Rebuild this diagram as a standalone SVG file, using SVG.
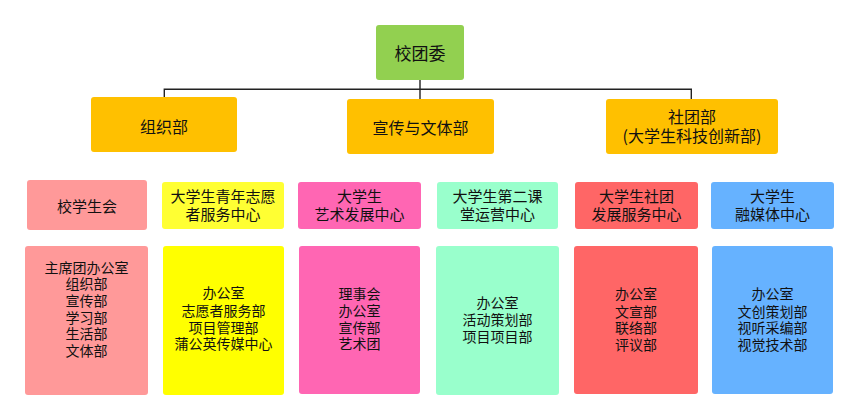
<svg xmlns="http://www.w3.org/2000/svg" width="859" height="420" viewBox="0 0 859 420">
<style>
text{font-family:"Microsoft YaHei","Noto Sans CJK SC","Noto Sans",sans-serif;fill:#111;text-anchor:middle}
.t1{font-size:17px}.t2{font-size:16px}.t3{font-size:15px}.t4{font-size:14px}
.c{fill:none;stroke:#222;stroke-width:1.4}
</style>
<rect width="859" height="420" fill="#fff"/>
<g id="connectors">
<path class="c" d="M420,80V89.3M164.3,97V89.3H691.3V99M420,89.3V99"/>
</g>
<g id="n-root"><rect x="376" y="25" width="88" height="55" rx="3" fill="#92d050"/><text class="t1" x="420" y="60">校团委</text></g>
<g id="n-zzb"><rect x="91" y="97" width="146" height="55" rx="3" fill="#ffc000"/><text class="t2" x="164" y="132.5">组织部</text></g>
<g id="n-xc"><rect x="347" y="99" width="147" height="55" rx="3" fill="#ffc000"/><text class="t2" x="420.5" y="134">宣传与文体部</text></g>
<g id="n-st"><rect x="606" y="99" width="172" height="55" rx="3" fill="#ffc000"/><text class="t2" x="692" y="122.5">社团部</text><text class="t2" x="692" y="142">(大学生科技创新部)</text></g>

<g id="n-xsh"><rect x="27" y="180" width="120" height="50" rx="3" fill="#ff9999"/><text class="t3" x="87" y="212">校学生会</text></g>
<g id="n-zy"><rect x="162" y="182" width="122" height="47" rx="3" fill="#ffff33"/><text class="t3" x="223" y="202">大学生青年志愿</text><text class="t3" x="223" y="219.5">者服务中心</text></g>
<g id="n-ys"><rect x="298" y="182" width="123" height="47" rx="3" fill="#ff66b3"/><text class="t3" x="359.5" y="202">大学生</text><text class="t3" x="359.5" y="219.5">艺术发展中心</text></g>
<g id="n-dk"><rect x="437" y="182" width="121" height="47" rx="3" fill="#99ffcc"/><text class="t3" x="497.5" y="202">大学生第二课</text><text class="t3" x="497.5" y="219.5">堂运营中心</text></g>
<g id="n-stfz"><rect x="575" y="182" width="123" height="47" rx="3" fill="#ff6666"/><text class="t3" x="636.5" y="202">大学生社团</text><text class="t3" x="636.5" y="219.5">发展服务中心</text></g>
<g id="n-rmt"><rect x="711" y="182" width="123" height="47" rx="3" fill="#66b2ff"/><text class="t3" x="772.5" y="202">大学生</text><text class="t3" x="772.5" y="219.5">融媒体中心</text></g>

<g id="n-b1"><rect x="25" y="246" width="123" height="149" rx="3" fill="#ff9999"/>
<text class="t4" x="86.5" y="272.7">主席团办公室</text><text class="t4" x="86.5" y="289.3">组织部</text><text class="t4" x="86.5" y="306">宣传部</text><text class="t4" x="86.5" y="322.7">学习部</text><text class="t4" x="86.5" y="339.3">生活部</text><text class="t4" x="86.5" y="356">文体部</text></g>
<g id="n-b2"><rect x="163" y="246" width="121" height="149" rx="3" fill="#ffff00"/>
<text class="t4" x="223.5" y="298.3">办公室</text><text class="t4" x="223.5" y="315.5">志愿者服务部</text><text class="t4" x="223.5" y="332.5">项目管理部</text><text class="t4" x="223.5" y="349.3">蒲公英传媒中心</text></g>
<g id="n-b3"><rect x="299" y="246" width="121" height="148" rx="3" fill="#ff66b3"/>
<text class="t4" x="359.5" y="299.3">理事会</text><text class="t4" x="359.5" y="316">办公室</text><text class="t4" x="359.5" y="332.7">宣传部</text><text class="t4" x="359.5" y="349.3">艺术团</text></g>
<g id="n-b4"><rect x="436" y="246" width="123" height="149" rx="3" fill="#99ffcc"/>
<text class="t4" x="497.5" y="308.3">办公室</text><text class="t4" x="497.5" y="325">活动策划部</text><text class="t4" x="497.5" y="341.7">项目项目部</text></g>
<g id="n-b5"><rect x="574" y="246" width="124" height="148" rx="3" fill="#ff6666"/>
<text class="t4" x="636" y="299.3">办公室</text><text class="t4" x="636" y="316.5">文宣部</text><text class="t4" x="636" y="333.3">联络部</text><text class="t4" x="636" y="350">评议部</text></g>
<g id="n-b6"><rect x="712" y="246" width="121" height="148" rx="3" fill="#66b2ff"/>
<text class="t4" x="772.5" y="299.3">办公室</text><text class="t4" x="772.5" y="316.5">文创策划部</text><text class="t4" x="772.5" y="333.3">视听采编部</text><text class="t4" x="772.5" y="350">视觉技术部</text></g>
</svg>
